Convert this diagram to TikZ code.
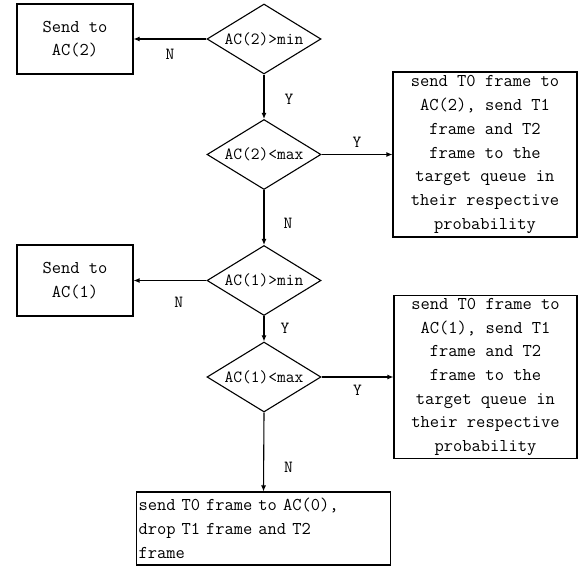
\documentclass[tikz,border=0pt]{standalone}
\usetikzlibrary{shapes.geometric,arrows.meta,positioning}

\tikzset{
	flowbox/.style={draw, line width=1.1pt, inner sep=2pt, align=center,
		font=\ttfamily\fontsize{18}{23.7}\selectfont},
	testbox/.style={draw, diamond, line width=1.1pt, aspect=1.63, inner sep=0pt,
		minimum width=114pt, minimum height=70pt,
		font=\ttfamily\fontsize{17}{20}\selectfont},
	flow/.style={line width=1.1pt, -{Latex[length=6pt,width=5pt]}},
	yn/.style={inner sep=0pt, font=\ttfamily\fontsize{17}{17}\selectfont}
}

\begin{document}
\begin{tikzpicture}[x=1pt,y=-1pt]
	\useasboundingbox (0, 0) rectangle (584, 567);
	% Tests on AC(2)
	\node[testbox] (TwoMin) at (264, 39) {AC(2)>min};
	\node[testbox] (TwoMax) at (264, 154.5) {AC(2)<max};
	\node[flowbox, minimum width=116pt, minimum height=70pt] (SendTwo) at (75, 39)
		{Send to\\AC(2)};
	\node[flowbox, minimum width=184pt, minimum height=165pt] (ShareTwo) at (485, 154.5)
		{send T0 frame to\\AC(2), send T1\\frame and T2\\frame to the\\target queue in\\their respective\\probability};

	% Tests on AC(1)
	\node[testbox] (OneMin) at (264, 280.5) {AC(1)>min};
	\node[testbox] (OneMax) at (264, 377) {AC(1)<max};
	\node[flowbox, minimum width=116pt, minimum height=71pt] (SendOne) at (75, 280.5)
		{Send to\\AC(1)};
	\node[flowbox, minimum width=183pt, minimum height=163pt] (ShareOne) at (485.5, 377)
		{send T0 frame to\\AC(1), send T1\\frame and T2\\frame to the\\target queue in\\their respective\\probability};

	% Fall back to AC(0)
	\node[flowbox, align=left, text width=250pt, minimum height=73pt] (DropAll) at (263.5, 528.5)
		{send T0 frame to AC(0),\\drop T1 frame and T2\\frame};

	% Connectors
	\draw[flow] (TwoMin.west) -- (SendTwo.east)
		node[yn, pos=0.5, below=10pt] (NoA) {N};
	\draw[flow] (TwoMin.south) -- (TwoMax.north)
		node[yn, pos=0.55, right=20pt] (YesA) {Y};
	\draw[flow] (TwoMax.east) -- (ShareTwo.west)
		node[yn, pos=0.5, above=6pt] (YesB) {Y};
	\draw[flow] (TwoMax.south) -- (OneMin.north)
		node[yn, pos=0.6, right=19pt] (NoB) {N};
	\draw[flow] (OneMin.west) -- (SendOne.east)
		node[yn, pos=0.38, below=16pt] (NoC) {N};
	\draw[flow] (OneMin.south) -- (OneMax.north)
		node[yn, pos=0.5, right=16pt] (YesC) {Y};
	\draw[flow] (OneMax.east) -- (ShareOne.west)
		node[yn, pos=0.5, below=8pt] (YesD) {Y};
	\draw[flow] (OneMax.south) -- (DropAll.north)
		node[yn, pos=0.7, right=20pt] (NoD) {N};
\end{tikzpicture}
\end{document}
